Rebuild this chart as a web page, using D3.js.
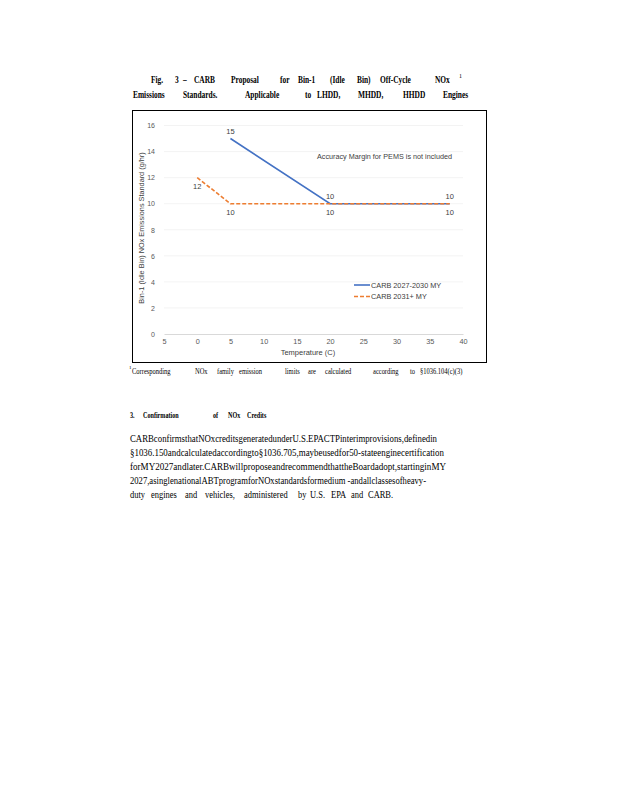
<!DOCTYPE html>
<html><head><meta charset="utf-8">
<script src="https://cdn.jsdelivr.net/npm/d3@7"></script>
<style>body{margin:0;background:#fff}svg{display:block}</style>
</head><body>
<svg id="c" width="618" height="800"></svg>
<script>
// ---- data ----
const xTicks = [-5, 0, 5, 10, 15, 20, 25, 30, 35, 40];
const xTickLabels = ["5", "0", "5", "10", "15", "20", "25", "30", "35", "40"];
const yTicks = [0, 2, 4, 6, 8, 10, 12, 14, 16];
const seriesNames = ["CARB 2027-2030 MY", "CARB 2031+ MY"];
const blueX = [5, 20, 38];
const blueY = [15, 10, 10];
const orangeX = [0, 5, 20, 38];
const orangeY = [12, 10, 10, 10];
const annotation = "Accuracy Margin for PEMS is not included";
const xTitle = "Temperature (C)";
const yTitle = "Bin-1 (Idle Bin) NOx Emissions Standard (g/hr)";
const title1 = ["Fig.", "3", "–", "CARB", "Proposal", "for", "Bin-1", "(Idle", "Bin)", "Off-Cycle", "NOx"];
const title2 = ["Emissions", "Standards.", "Applicable", "to", "LHDD,", "MHDD,", "HHDD", "Engines"];
const footWords = ["Corresponding", "NOx", "family", "emission", "limits", "are", "calculated", "according", "to", "§1036.104(c)(3)"];
const headWords = ["3.", "Confirmation", "of", "NOx", "Credits"];
const paraLines = [
  "CARBconfirmsthatNOxcreditsgeneratedunderU.S.EPACTPinterimprovisions,definedin",
  "§1036.150andcalculatedaccordingto§1036.705,maybeusedfor50-stateenginecertification",
  "forMY2027andlater.CARBwillproposeandrecommendthattheBoardadopt,startinginMY",
  "2027,asinglenationalABTprogramforNOxstandardsformedium -andallclassesofheavy-"
];
const lastLine = ["duty", "engines", "and", "vehicles,", "administered", "by", "U.S.", "EPA", "and", "CARB."];

const svg = d3.select("#c");
const serif = "'Liberation Serif','Times New Roman',serif";
const sans = "'Liberation Sans',Arial,sans-serif";

// helper: words placed at given x with condensed width
function words(list, xs, y, size, weight, squeeze) {
  list.forEach((w, i) => {
    const t = svg.append("text").attr("x", xs[i]).attr("y", y)
      .attr("font-family", serif).attr("font-size", size).attr("font-weight", weight)
      .attr("fill", "#000").text(w);
    const L = t.node().getComputedTextLength();
    t.attr("textLength", L * squeeze).attr("lengthAdjust", "spacingAndGlyphs");
  });
}

// ---- title ----
words(title1, [151, 175, 183, 194, 231, 280, 298, 330, 357, 380, 435], 83, 9.5, "bold", 0.78);
svg.append("text").attr("x", 459).attr("y", 78).attr("font-family", serif).attr("font-size", 6).text("1");
words(title2, [133, 183, 245, 305, 317, 358, 403, 443], 98, 9.5, "bold", 0.78);

// ---- chart box ----
svg.append("rect").attr("x", 132.5).attr("y", 110.5).attr("width", 354).attr("height", 252)
  .attr("fill", "#fff").attr("stroke", "#000").attr("stroke-width", 1);

const x = d3.scaleLinear().domain([-5, 40]).range([164, 463]);
const y = d3.scaleLinear().domain([0, 16]).range([334, 125.5]);

// gridlines
svg.append("g").selectAll("line").data(yTicks.slice(1)).join("line")
  .attr("x1", x(-5)).attr("x2", x(40)).attr("y1", d => y(d)).attr("y2", d => y(d))
  .attr("stroke", "#f0f0f0").attr("stroke-width", 0.8);

// x axis
const xAxis = d3.axisBottom(x).tickValues(xTicks).tickSize(0).tickPadding(5)
  .tickFormat((d, i) => xTickLabels[i]);
const gx = svg.append("g").attr("transform", `translate(0,${y(0)})`).call(xAxis);
gx.select(".domain").attr("stroke", "#d9d9d9");
gx.selectAll("text").attr("font-family", sans).attr("font-size", 7.3).attr("fill", "#595959");

// y axis
const yAxis = d3.axisLeft(y).tickValues(yTicks).tickSize(0).tickPadding(9);
const gy = svg.append("g").attr("transform", `translate(${x(-5)},0)`).call(yAxis);
gy.select(".domain").remove();
gy.selectAll("text").attr("font-family", sans).attr("font-size", 7).attr("fill", "#595959");

// lines
const blue = blueX.map((v, i) => [v, blueY[i]]);
const orange = orangeX.map((v, i) => [v, orangeY[i]]);
const line = d3.line().x(d => x(d[0])).y(d => y(d[1]));
svg.append("path").datum(blue).attr("d", line).attr("fill", "none")
  .attr("stroke", "#4472C4").attr("stroke-width", 1.6);
svg.append("path").datum(orange).attr("d", line).attr("fill", "none")
  .attr("stroke", "#ED7D31").attr("stroke-width", 1.6).attr("stroke-dasharray", "4,2");

// data labels
svg.append("g").selectAll("text").data(blue).join("text")
  .attr("x", d => x(d[0])).attr("y", d => y(d[1]) - 5).attr("text-anchor", "middle")
  .attr("font-family", sans).attr("font-size", 7.5).attr("fill", "#404040").text(d => d[1]);
svg.append("g").selectAll("text").data(orange).join("text")
  .attr("x", d => x(d[0])).attr("y", d => y(d[1]) + 11).attr("text-anchor", "middle")
  .attr("font-family", sans).attr("font-size", 7.5).attr("fill", "#404040").text(d => d[1]);

// annotation
svg.append("text").attr("x", 317).attr("y", 159).attr("font-family", sans).attr("font-size", 7.8)
  .attr("fill", "#404040").attr("textLength", 135).attr("lengthAdjust", "spacingAndGlyphs").text(annotation);

// legend
const leg = [["#4472C4", null], ["#ED7D31", "4,2"]];
leg.forEach((l, i) => {
  const ly = 285 + i * 11.5;
  svg.append("line").attr("x1", 354).attr("x2", 370).attr("y1", ly).attr("y2", ly)
    .attr("stroke", l[0]).attr("stroke-width", 1.6).attr("stroke-dasharray", l[1]);
  svg.append("text").attr("x", 371).attr("y", ly + 2.7).attr("font-family", sans).attr("font-size", 7.3)
    .attr("fill", "#404040").text(seriesNames[i]);
});

// axis titles
svg.append("text").attr("x", 308).attr("y", 355).attr("text-anchor", "middle")
  .attr("font-family", sans).attr("font-size", 7.5).attr("fill", "#404040").text(xTitle);
svg.append("text").attr("transform", "translate(144,228) rotate(-90)").attr("text-anchor", "middle")
  .attr("font-family", sans).attr("font-size", 7.3).attr("fill", "#404040").text(yTitle);

// ---- footnote ----
svg.append("text").attr("x", 129).attr("y", 369).attr("font-family", serif).attr("font-size", 5).text("1");
words(footWords, [132, 195, 217, 239, 285, 308, 325, 373, 410, 420], 374, 9, "normal", 0.72);

// ---- section heading ----
words(headWords, [130, 143, 213, 228, 247], 418, 8.5, "bold", 0.72);

// ---- paragraph ----
const paraEnds = [437, 444, 446, 426];
paraLines.forEach((s, i) => {
  svg.append("text").attr("x", 130).attr("y", 442 + i * 14)
    .attr("font-family", serif).attr("font-size", 11).attr("fill", "#000")
    .attr("textLength", paraEnds[i] - 130).attr("lengthAdjust", "spacingAndGlyphs").text(s);
});
words(lastLine, [130, 151, 185, 205, 244, 298, 310, 331, 351, 368], 498, 9.6, "normal", 0.88);
</script>
</body></html>
